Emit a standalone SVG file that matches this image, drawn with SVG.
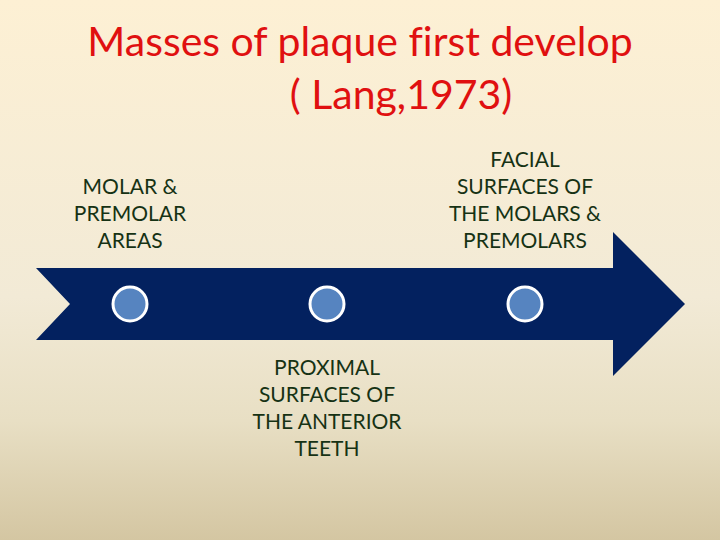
<svg xmlns="http://www.w3.org/2000/svg" width="720" height="540" viewBox="0 0 720 540">
<defs>
<linearGradient id="bg" x1="0" y1="0" x2="0" y2="1">
<stop offset="0" stop-color="#fdf0d4"/>
<stop offset="0.55" stop-color="#f2ead6"/>
<stop offset="0.78" stop-color="#e8dfc4"/>
<stop offset="1" stop-color="#d4c6a2"/>
</linearGradient>
<style>
.title{font-family:Lato,"Liberation Sans",sans-serif;font-size:41px;fill:#e01010;text-anchor:middle;font-variant-ligatures:none}
.lbl{font-family:Lato,"Liberation Sans",sans-serif;font-size:21px;fill:#163214;text-anchor:middle}
.dot{fill:#5684c0;stroke:#ffffff;stroke-width:3}
</style>
</defs>
<rect width="720" height="540" fill="url(#bg)"/>
<g id="title">
<text class="title" x="360" y="56">Masses of plaque first develop</text>
<text class="title" x="401" y="109">( Lang,1973)</text>
</g>
<g id="connectors">
<path d="M36,268 L613,268 L613,232 L685,304 L613,376 L613,340 L36,340 L70,304 Z" fill="#03215f"/>
</g>
<g id="node1">
<circle class="dot" cx="130" cy="304" r="17"/>
<text class="lbl" x="130" y="194">MOLAR &amp;</text>
<text class="lbl" x="130" y="221">PREMOLAR</text>
<text class="lbl" x="130" y="248">AREAS</text>
</g>
<g id="node2">
<circle class="dot" cx="327" cy="304" r="17"/>
<text class="lbl" x="327" y="375">PROXIMAL</text>
<text class="lbl" x="327" y="402">SURFACES OF</text>
<text class="lbl" x="327" y="429">THE ANTERIOR</text>
<text class="lbl" x="327" y="456">TEETH</text>
</g>
<g id="node3">
<circle class="dot" cx="525" cy="304" r="17"/>
<text class="lbl" x="525" y="167">FACIAL</text>
<text class="lbl" x="525" y="194">SURFACES OF</text>
<text class="lbl" x="525" y="221">THE MOLARS &amp;</text>
<text class="lbl" x="525" y="248">PREMOLARS</text>
</g>
</svg>
